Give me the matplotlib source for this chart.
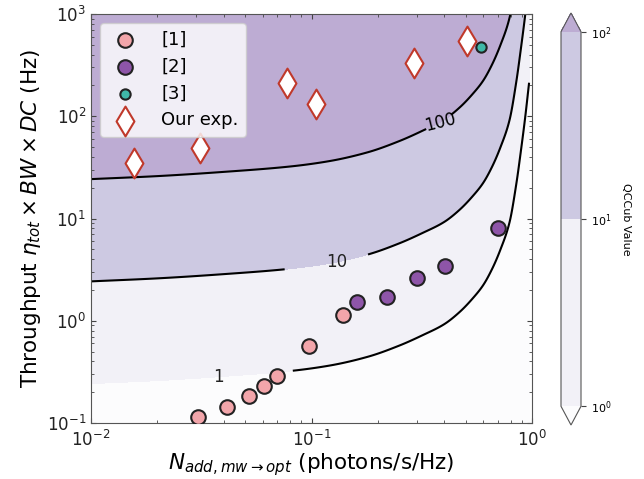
import numpy as np
import matplotlib
matplotlib.use("Agg")
import matplotlib.pyplot as plt
from matplotlib.colors import ListedColormap, LogNorm

# QCCub value per unit throughput (x = N_add)
q_x = [0.01, 0.02, 0.04, 0.08, 0.12, 0.18, 0.25, 0.32, 0.40, 0.47, 0.54,
       0.60, 0.66, 0.72, 0.79, 0.85, 0.89, 0.93, 0.97]
q_val = [4.12, 3.85, 3.5, 3.1, 2.75, 2.25, 1.75, 1.38, 1.08, 0.82, 0.6,
         0.45, 0.31, 0.2, 0.11, 0.045, 0.022, 0.0105, 0.0047]
levels = [1, 10, 100]

ref1_x = [0.0305, 0.0414, 0.0521, 0.061, 0.0698, 0.0975, 0.139]
ref1_y = [0.1145, 0.143, 0.184, 0.230, 0.288, 0.566, 1.14]
ref2_x = [0.161, 0.220, 0.301, 0.403, 0.701]
ref2_y = [1.52, 1.71, 2.62, 3.43, 8.07]
ref3_x = [0.587]
ref3_y = [475]
our_x = [0.01567, 0.0312, 0.0774, 0.1047, 0.292, 0.507]
our_y = [34.9, 48.9, 211, 132, 332, 545]


def pchip(xk, yk, xq):
    xk = np.asarray(xk, float)
    yk = np.asarray(yk, float)
    h = np.diff(xk)
    d = np.diff(yk) / h
    n = len(xk)
    m = np.zeros(n)
    for k in range(1, n - 1):
        if d[k - 1] * d[k] <= 0:
            m[k] = 0.0
        else:
            w1 = 2 * h[k] + h[k - 1]
            w2 = h[k] + 2 * h[k - 1]
            m[k] = (w1 + w2) / (w1 / d[k - 1] + w2 / d[k])
    m[0] = d[0]
    m[-1] = d[-1]
    idx = np.clip(np.searchsorted(xk, xq) - 1, 0, n - 2)
    t = (xq - xk[idx]) / h[idx]
    h00 = 2 * t**3 - 3 * t**2 + 1
    h10 = t**3 - 2 * t**2 + t
    h01 = -2 * t**3 + 3 * t**2
    h11 = t**3 - t**2
    return (h00 * yk[idx] + h10 * h[idx] * m[idx] + h01 * yk[idx + 1]
            + h11 * h[idx] * m[idx + 1])


fig = plt.figure(figsize=(6.44, 4.79), dpi=100)
ax = fig.add_axes([91 / 644, 56 / 479, 441 / 644, 409 / 479])

xg = np.logspace(-2, np.log10(0.97), 700)
yg = np.logspace(-1, 3, 700)
X, Y = np.meshgrid(xg, yg)
Qg = 10 ** pchip(np.log10(q_x), np.log10(q_val), np.log10(xg))
Z = Y * Qg[None, :]

cmap = ListedColormap(['#f2f1f7', '#cdc9e2'])
cmap.set_under('#fcfcfd')
cmap.set_over('#bdacd3')
norm = LogNorm(1, 100)
cf = ax.contourf(X, Y, Z, levels=levels, cmap=cmap, norm=norm, extend='both')

line_kw = dict(colors='k', linewidths=1.5)
c100 = ax.contour(X, Y, Z, levels=[100], **line_kw)
ax.clabel(c100, manual=[(0.38, 95)], inline=True, inline_spacing=8,
          fontsize=12, fmt='%d')

ma = xg <= 0.076
mb = xg >= 0.18
ax.contour(X[:, ma], Y[:, ma], Z[:, ma], levels=[10], **line_kw)
ax.contour(X[:, mb], Y[:, mb], Z[:, mb], levels=[10], **line_kw)
ax.text(0.13, 3.76, '10', fontsize=12, ha='center', va='center',
        color='#222222')

m1 = xg >= 0.082
ax.contour(X[:, m1], Y[:, m1], Z[:, m1], levels=[1], **line_kw)
ax.text(0.0377, 0.282, '1', fontsize=12, ha='center', va='center',
        color='#222222')

ax.scatter(ref1_x, ref1_y, s=110, c='#f2a5aa', edgecolors='#222222',
           linewidths=1.5, label='[1]', zorder=5)
ax.scatter(ref2_x, ref2_y, s=110, c='#8e55a8', edgecolors='#222222',
           linewidths=1.5, label='[2]', zorder=5)
ax.scatter(ref3_x, ref3_y, s=55, c='#3fb8a8', edgecolors='#222222',
           linewidths=1.5, label='[3]', zorder=5)
ax.scatter(our_x, our_y, marker='d', s=230, c='white', edgecolors='#c0392b',
           linewidths=1.5, label='Our exp.', zorder=5)

ax.set_xscale('log')
ax.set_yscale('log')
ax.set_xlim(1e-2, 1)
ax.set_ylim(1e-1, 1e3)
ax.tick_params(which='both', direction='in', top=True, right=True,
               labelsize=12, color='#444444', labelcolor='#222222')
ax.tick_params(axis='x', which='major', pad=5)
for sp in ax.spines.values():
    sp.set_color('#555555')
ax.set_xlabel(r'$N_{add, mw\rightarrow opt}$ (photons/s/Hz)', fontsize=15.5,
              labelpad=1)
ax.set_ylabel(r'Throughput $\eta_{tot}\times BW\times DC$ (Hz)', fontsize=15.5,
              labelpad=3)

ax.legend(loc='upper left', fontsize=13, scatterpoints=1, labelspacing=0.5,
          handletextpad=1.0)

cax = fig.add_axes([561 / 644, 54 / 479, 20 / 644, 412 / 479])
cbar = fig.colorbar(cf, cax=cax)
cbar.set_ticks([1, 10, 100])
cbar.ax.minorticks_off()
cbar.ax.tick_params(labelsize=8, color='#444444')
cbar.outline.set_edgecolor('#555555')
cbar.set_label('QCCub Value', rotation=270, fontsize=8, labelpad=14)

fig.savefig('out.png', dpi=100)
